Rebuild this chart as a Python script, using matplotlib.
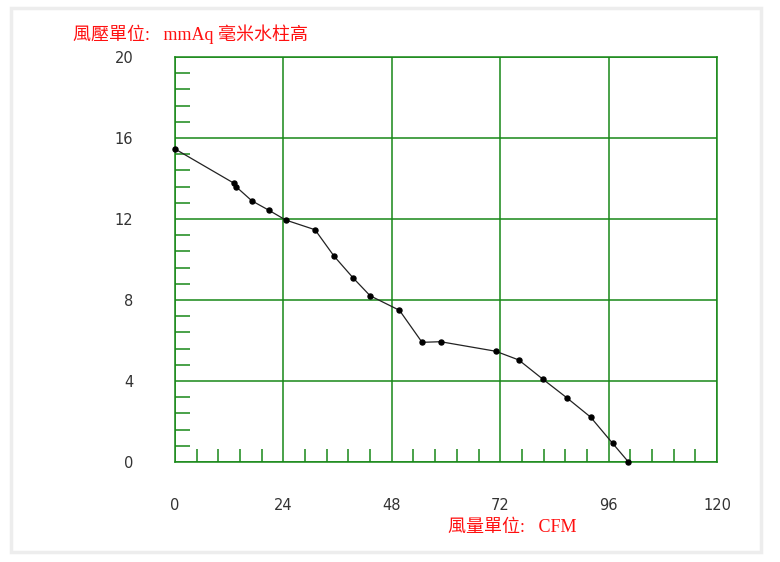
import matplotlib
matplotlib.use('Agg')
import matplotlib.pyplot as plt
from matplotlib.ticker import MultipleLocator
from matplotlib.patches import Rectangle

# fan curve
flow = [0, 13.1, 13.5, 17.0, 20.8, 24.5, 31.0, 35.2, 39.4, 43.2,
        49.7, 54.7, 58.8, 71.0, 76.1, 81.5, 86.7, 92.0, 96.9, 100.4]
pressure = [15.46, 13.76, 13.6, 12.9, 12.43, 11.95, 11.47, 10.17, 9.1, 8.21,
            7.49, 5.91, 5.94, 5.47, 5.04, 4.08, 3.18, 2.22, 0.92, 0.0]
x_ticks = [0, 24, 48, 72, 96, 120]
y_ticks = [0, 4, 8, 12, 16, 20]
y_title = '風壓單位:   mmAq 毫米水柱高'
x_title = '風量單位:   CFM'

green = '#188818'
red = '#ff1010'
txt_font = ['Liberation Serif', 'Noto Sans CJK TC']

fig = plt.figure(figsize=(7.8, 5.62), dpi=100)
fig.patches.append(Rectangle((11 / 780, 10 / 562), 750 / 780, 544 / 562,
                             transform=fig.transFigure, fill=False,
                             edgecolor='#ededed', linewidth=2.5))

ax = fig.add_axes([175 / 780, 100 / 562, 542 / 780, 405 / 562])
ax.plot(flow, pressure, color='#222222', linewidth=0.9, marker='o',
        markersize=3.6, markerfacecolor='black', markeredgecolor='black',
        clip_on=False, zorder=3)

ax.set_xlim(0, 120)
ax.set_ylim(0, 20)
ax.set_xticks(x_ticks)
ax.set_yticks(y_ticks)
ax.xaxis.set_minor_locator(MultipleLocator(4.8))
ax.yaxis.set_minor_locator(MultipleLocator(0.8))
ax.grid(True, which='major', color=green, linewidth=1.1)

for s in ax.spines.values():
    s.set_color(green)
    s.set_linewidth(1.1)

ax.tick_params(axis='both', which='major', length=0, colors='#333333',
               labelsize=10.5)
ax.tick_params(axis='y', which='major', pad=30)
ax.tick_params(axis='x', which='major', pad=26)
ax.tick_params(axis='x', which='minor', direction='in', length=9.5,
               width=1.1, color=green)
ax.tick_params(axis='y', which='minor', direction='in', length=11,
               width=1.1, color=green)

fig.text(73 / 780, 1 - 34 / 562, y_title, color=red, fontsize=13,
         family=txt_font, ha='left', va='center')
fig.text(448 / 780, 1 - 527 / 562, x_title, color=red, fontsize=13,
         family=txt_font, ha='left', va='center')

plt.savefig('out.png', dpi=100)
